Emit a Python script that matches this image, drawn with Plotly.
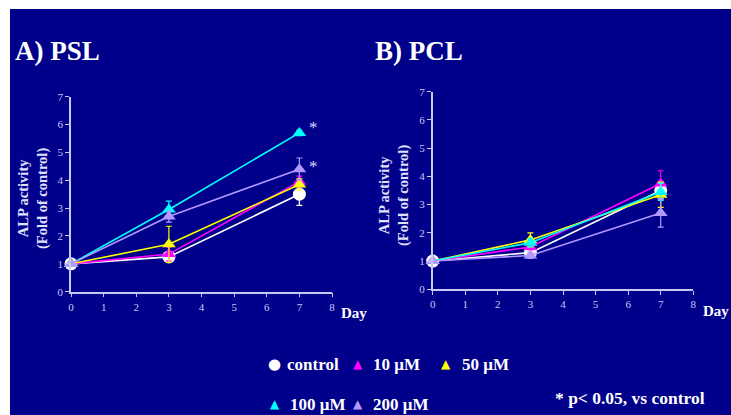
import plotly.graph_objects as go

W, H = 731, 415
days = [0, 3, 7]
series_names = ["control", "10 μM", "50 μM", "100 μM", "200 μM"]
series_colors = ["#ffffff", "#ff00ff", "#ffff00", "#00ffff", "#b399ff"]
series_symbols = ["circle", "triangle-up", "triangle-up", "triangle-up", "triangle-up"]

# Panel A: PSL
psl_control = [1.0, 1.25, 3.5]
psl_10 = [1.0, 1.35, 3.95]
psl_50 = [1.0, 1.7, 3.85]
psl_100 = [1.0, 2.95, 5.7]
psl_200 = [1.0, 2.7, 4.4]
psl_err_control = [0.05, 0.1, 0.4]
psl_err_10 = [0.05, 0.25, 0.2]
psl_err_50 = [0.05, 0.65, 0.2]
psl_err_100 = [0.05, 0.3, 0.1]
psl_err_200 = [0.05, 0.2, 0.4]

# Panel B: PCL
pcl_control = [1.0, 1.3, 3.5]
pcl_10 = [1.0, 1.5, 3.75]
pcl_50 = [1.0, 1.75, 3.35]
pcl_100 = [1.0, 1.65, 3.45]
pcl_200 = [1.0, 1.2, 2.7]
pcl_err_control = [0.05, 0.1, 0.3]
pcl_err_10 = [0.05, 0.1, 0.45]
pcl_err_50 = [0.05, 0.25, 0.45]
pcl_err_100 = [0.05, 0.15, 0.3]
pcl_err_200 = [0.05, 0.1, 0.5]

x_ticks = [0, 1, 2, 3, 4, 5, 6, 7, 8]
y_ticks = [0, 1, 2, 3, 4, 5, 6, 7]

psl = [psl_control, psl_10, psl_50, psl_100, psl_200]
psl_err = [psl_err_control, psl_err_10, psl_err_50, psl_err_100, psl_err_200]
pcl = [pcl_control, pcl_10, pcl_50, pcl_100, pcl_200]
pcl_err = [pcl_err_control, pcl_err_10, pcl_err_50, pcl_err_100, pcl_err_200]

NAVY = "#00008b"
AXC = "#c8c8f4"
SERIF = "Liberation Serif, Times New Roman, serif"

fig = go.Figure()

def add_panel(data, errs, xa, ya):
    for name, col, sym, ys, er in zip(series_names, series_colors, series_symbols, data, errs):
        fig.add_trace(go.Scatter(
            x=days, y=ys, name=name, mode="lines+markers",
            line=dict(color=col, width=1.6),
            marker=dict(symbol=sym, size=13 if sym == "circle" else 12, color=col,
                        line=dict(width=0)),
            error_y=dict(type="data", array=er, color=col, thickness=1.2, width=3),
            xaxis=xa, yaxis=ya, showlegend=False, cliponaxis=False, hoverinfo="skip"))

add_panel(psl, psl_err, "x", "y")
add_panel(pcl, pcl_err, "x2", "y2")

def px_x(p):
    return p / W

def px_y(p):
    return 1 - p / H

axis_common = dict(showgrid=False, zeroline=False, showline=True, linecolor=AXC, linewidth=1.5,
                   ticks="outside", ticklen=4, tickwidth=1.2, tickcolor=AXC, automargin=False,
                   tickfont=dict(family=SERIF, size=11, color=AXC))

fig.update_layout(
    width=W, height=H,
    margin=dict(l=0, r=0, t=0, b=0, pad=0, autoexpand=False),
    paper_bgcolor="white", plot_bgcolor=NAVY,
    xaxis=dict(domain=[px_x(71), px_x(332)], range=[0, 8], tickvals=x_ticks, anchor="y", **axis_common),
    yaxis=dict(domain=[px_y(291.7), px_y(96.7)], range=[0, 7], tickvals=y_ticks, anchor="x", **axis_common),
    xaxis2=dict(domain=[px_x(432.7), px_x(693.3)], range=[0, 8], tickvals=x_ticks, anchor="y2", **axis_common),
    yaxis2=dict(domain=[px_y(289.3), px_y(91.7)], range=[0, 7], tickvals=y_ticks, anchor="x2", **axis_common),
    shapes=[
        dict(type="rect", xref="paper", yref="paper", x0=px_x(10), x1=1, y0=0, y1=px_y(9),
             fillcolor=NAVY, line=dict(width=0), layer="below"),
    ],
)

ann = []
def text(x, y, s, size, color="white", bold=True, xanchor="left", angle=0, family=SERIF):
    ann.append(dict(x=px_x(x), y=px_y(y), xref="paper", yref="paper", text=("<b>%s</b>" % s) if bold else s,
                    showarrow=False, xanchor=xanchor, yanchor="middle", textangle=angle,
                    font=dict(family=family, size=size, color=color)))

text(13, 51, "A) PSL", 27)
text(373, 51, "B) PCL", 27)
text(33, 199, "ALP activity<br>(Fold of control)", 14.5, color="#e0e0ff", xanchor="center", angle=-90)
text(394, 196, "ALP activity<br>(Fold of control)", 14.5, color="#e0e0ff", xanchor="center", angle=-90)
text(339, 313, "Day", 15)
text(701, 311, "Day", 15)

# significance asterisks on panel A
for yv in [5.9, 4.5]:
    ann.append(dict(x=7.42, y=yv, xref="x", yref="y", text="*", showarrow=False, xanchor="center",
                    font=dict(family=SERIF, size=17, color="#dcdcff")))

# legend
leg = [(274, 364, 285, 0), (358, 364, 371, 1), (446, 364, 460, 2), (275, 404, 288, 3), (358, 404, 371, 4)]
for mx, my, tx, i in leg:
    glyph = "●" if i == 0 else "▲"
    ann.append(dict(x=px_x(mx), y=px_y(my), xref="paper", yref="paper", text=glyph, showarrow=False,
                    xanchor="center", yanchor="middle",
                    font=dict(family="DejaVu Sans", size=15 if i == 0 else 12, color=series_colors[i])))
    text(tx, my, series_names[i], 17)
text(553, 398, "* p&lt; 0.05, vs control", 17.5)

fig.update_layout(annotations=ann)
fig.write_html("out.html", config={"displayModeBar": False},
               post_script="document.body.style.margin='0px';document.body.style.overflow='hidden';")
